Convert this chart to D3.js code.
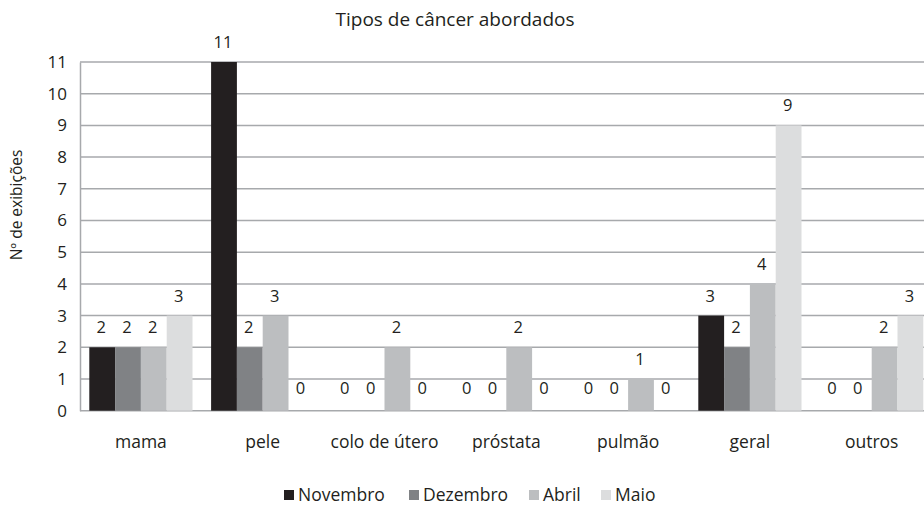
<!DOCTYPE html>
<html><head><meta charset="utf-8">
<script src="https://cdn.jsdelivr.net/npm/d3@7"></script>
<style>
html,body{margin:0;padding:0;background:#fff;}
svg{display:block;}
text{font-family:"Open Sans","Noto Sans",sans-serif;fill:#231f20;}
</style></head>
<body>
<svg id="chart" width="924" height="505"></svg>
<script>
const categories = ["mama","pele","colo de útero","próstata","pulmão","geral","outros"];
const seriesNames = ["Novembro","Dezembro","Abril","Maio"];
const novembro = [2,11,0,0,0,3,0];
const dezembro = [2,2,0,0,0,2,0];
const abril = [2,3,2,2,1,4,2];
const maio = [3,0,0,0,0,9,3];
const yTicks = [0,1,2,3,4,5,6,7,8,9,10,11];
const colors = ["#231f20","#808285","#bcbec0","#dcddde"];
const title = "Tipos de câncer abordados";
const yTitle = "Nº de exibições";

const seriesValues = [novembro, dezembro, abril, maio];
const svg = d3.select("#chart");
const left = 80, band = 121.8;
const x = d3.scaleBand().domain(categories).range([left, left + band*categories.length]).padding(0);
const xi = d3.scaleBand().domain(seriesNames).range([9.3, band-9.3]).padding(0);
const y = d3.scaleLinear().domain([0,11]).range([410.7, 62]);

// gridlines
svg.append("g").selectAll("line").data(yTicks).join("line")
  .attr("x1", left).attr("x2", 924)
  .attr("y1", d=>y(d)).attr("y2", d=>y(d))
  .attr("stroke", "#a7a9ac").attr("stroke-width", 1.5);

// y axis
const yAxis = d3.axisLeft(y).tickValues(yTicks).tickSize(0).tickPadding(13).tickFormat(d3.format("d"));
const ga = svg.append("g").attr("transform", `translate(${left},0)`).call(yAxis);
ga.select(".domain").attr("stroke", "#a7a9ac").attr("stroke-width", 1.5);
ga.selectAll("text").style("font-size", "17px").attr("fill", "#231f20");

// bars
const rows = [];
categories.forEach((c,i)=>seriesNames.forEach((s,j)=>rows.push({c, s, j, v: seriesValues[j][i]})));
svg.append("g").selectAll("rect").data(rows.filter(d=>d.v>0)).join("rect")
  .attr("x", d=>x(d.c)+xi(d.s)).attr("width", xi.bandwidth())
  .attr("y", d=>y(d.v)).attr("height", d=>y(0)-y(d.v))
  .attr("fill", d=>colors[d.j]);

// value labels
svg.append("g").selectAll("text").data(rows).join("text")
  .attr("x", d=>x(d.c)+xi(d.s)+xi.bandwidth()/2 - 1)
  .attr("y", d=>y(d.v) - 14 - (d.v===0?3:0))
  .attr("text-anchor","middle").style("font-size","16.5px")
  .text(d=>d.v);

// x axis labels
const xAxis = d3.axisBottom(x).tickSize(0).tickPadding(0);
const gx = svg.append("g").attr("transform", `translate(0,${y(0)})`).call(xAxis);
gx.select(".domain").remove();
gx.selectAll("text").attr("dy", null).attr("y", 37).style("font-size","17.5px").attr("fill","#231f20");

// title
svg.append("text").attr("x", 455).attr("y", 26).attr("text-anchor","middle").style("font-size","19px").text(title);

// y title
svg.append("text").attr("transform","translate(22,205) rotate(-90)").attr("text-anchor","middle").style("font-size","15.5px").text(yTitle);

// legend
const legendItems = [
  {n: seriesNames[0], x: 284},
  {n: seriesNames[1], x: 409},
  {n: seriesNames[2], x: 529},
  {n: seriesNames[3], x: 601}
];
const lg = svg.append("g");
legendItems.forEach((it,i)=>{
  lg.append("rect").attr("x", it.x).attr("y", 490).attr("width", 10).attr("height", 10).attr("fill", colors[i]);
  lg.append("text").attr("x", it.x+14).attr("y", 501).style("font-size","17.5px").text(it.n);
});
</script>
</body></html>
